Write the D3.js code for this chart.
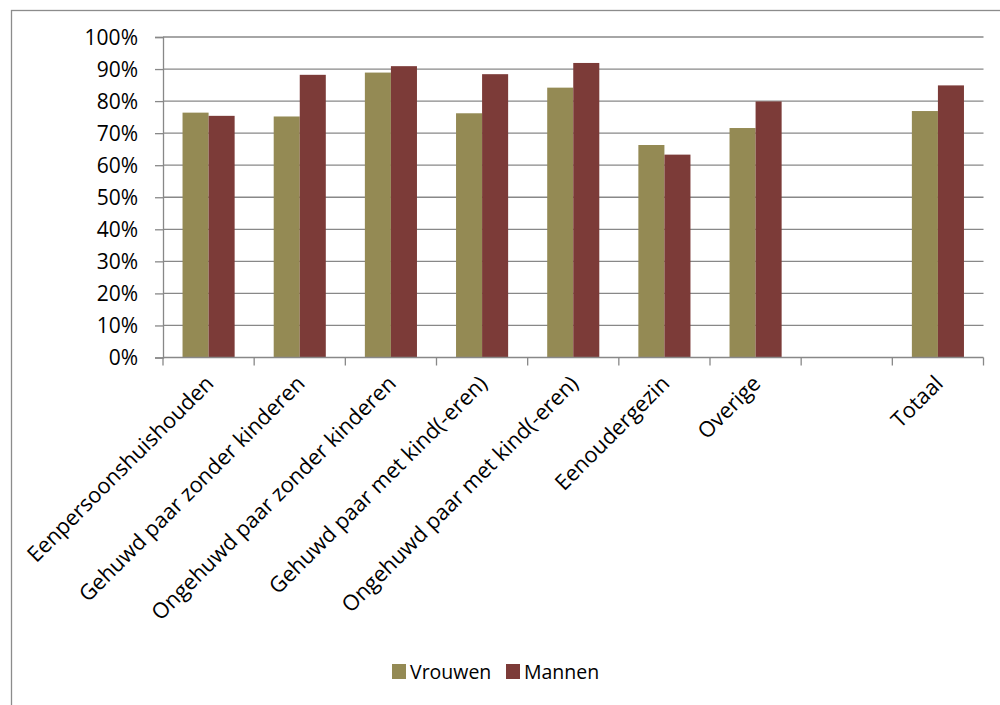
<!DOCTYPE html>
<html>
<head>
<meta charset="utf-8">
<script src="https://cdn.jsdelivr.net/npm/d3@7"></script>
<style>
  html, body { margin: 0; padding: 0; background: #fff; }
  svg { display: block; font-family: "Open Sans", sans-serif; }
</style>
</head>
<body>
<svg id="chart" width="1000" height="705"></svg>
<script>
// Household types (the blank slot keeps the gap before the total)
const categories = [
  "Eenpersoonshuishouden",
  "Gehuwd paar zonder kinderen",
  "Ongehuwd paar zonder kinderen",
  "Gehuwd paar met kind(-eren)",
  "Ongehuwd paar met kind(-eren)",
  "Eenoudergezin",
  "Overige",
  "",
  "Totaal"
];
const seriesNames = ["Vrouwen", "Mannen"];
const vrouwen = [76.4, 75.2, 88.9, 76.2, 84.2, 66.3, 71.6, null, 76.9];
const mannen  = [75.4, 88.2, 90.9, 88.4, 91.9, 63.3, 79.9, null, 84.9];
const yTicks = [0, 10, 20, 30, 40, 50, 60, 70, 80, 90, 100];
const colors = ["#948a54", "#7c3b38"];

const svg = d3.select("#chart");
const plotLeft = 163, plotRight = 983.5, plotTop = 37, plotBottom = 357.5;
const gridColor = "#888888";

// outer frame of the chart area
svg.append("rect")
  .attr("x", 11.5).attr("y", 10.5)
  .attr("width", 1100).attr("height", 1000)
  .attr("fill", "none").attr("stroke", "#8c8c8c").attr("stroke-width", 1.3);

const x0 = d3.scaleBand().domain(d3.range(categories.length)).range([plotLeft, plotRight]).paddingInner(0).paddingOuter(0);
const bw = x0.bandwidth() / 3.5;
const x1 = d3.scaleBand().domain(seriesNames).range([0, 2 * bw]);
const y = d3.scaleLinear().domain([0, 100]).range([plotBottom, plotTop]);

// horizontal gridlines
svg.append("g").selectAll("line").data(yTicks.slice(1)).join("line")
  .attr("x1", plotLeft).attr("x2", plotRight)
  .attr("y1", d => y(d)).attr("y2", d => y(d))
  .attr("stroke", gridColor).attr("stroke-width", 1.3);

// y axis
const yAxis = svg.append("g").attr("transform", `translate(${plotLeft},0)`)
  .call(d3.axisLeft(y).tickValues(yTicks).tickFormat(d => d + "%").tickSize(8).tickPadding(17));
yAxis.select(".domain").attr("stroke", gridColor).attr("stroke-width", 1.3);
yAxis.selectAll(".tick line").attr("stroke", gridColor).attr("stroke-width", 1.3);
yAxis.selectAll(".tick text").attr("font-size", 21).attr("fill", "#000")
  .attr("font-family", "Open Sans, sans-serif").attr("dy", "0.35em");

// bars
const rows = categories.map((c, i) => ({ i, values: [vrouwen[i], mannen[i]] }));
const groups = svg.append("g").selectAll("g").data(rows).join("g")
  .attr("transform", d => `translate(${x0(d.i) + (x0.bandwidth() - 2 * bw) / 2},0)`);
groups.selectAll("rect")
  .data(d => d.values.map((v, k) => ({ v, k })).filter(e => e.v != null))
  .join("rect")
  .attr("x", e => x1(seriesNames[e.k]))
  .attr("width", x1.bandwidth())
  .attr("y", e => y(e.v))
  .attr("height", e => y(0) - y(e.v))
  .attr("fill", e => colors[e.k]);

// x axis with ticks at category boundaries
const xg = svg.append("g");
xg.append("line").attr("x1", plotLeft).attr("x2", plotRight).attr("y1", plotBottom).attr("y2", plotBottom)
  .attr("stroke", gridColor).attr("stroke-width", 1.3);
const bounds = d3.range(categories.length + 1).map(i => i < categories.length ? x0(i) : x0(i - 1) + x0.bandwidth());
xg.selectAll("line.tk").data(bounds).join("line").attr("class", "tk")
  .attr("x1", d => d).attr("x2", d => d).attr("y1", plotBottom).attr("y2", plotBottom + 8)
  .attr("stroke", gridColor).attr("stroke-width", 1.3);

// rotated category labels
xg.selectAll("text").data(categories.map((c, i) => ({ c, i })).filter(d => d.c)).join("text")
  .attr("transform", d => `translate(${x0(d.i) + x0.bandwidth() / 2 + 1},${plotBottom + 22}) rotate(-45)`)
  .attr("text-anchor", "end")
  .attr("dy", "0.35em")
  .attr("font-size", 21.7)
  .attr("fill", "#000")
  .text(d => d.c);

// legend
const legend = svg.append("g").attr("transform", "translate(392,664)");
const items = [{ name: seriesNames[0], x: 0 }, { name: seriesNames[1], x: 114 }];
items.forEach((it, k) => {
  const g = legend.append("g").attr("transform", `translate(${it.x},0)`);
  g.append("rect").attr("width", 14).attr("height", 15).attr("fill", colors[k]);
  g.append("text").attr("x", 18).attr("y", 15).attr("font-size", 19.5).attr("fill", "#000").text(it.name);
});
</script>
</body>
</html>
